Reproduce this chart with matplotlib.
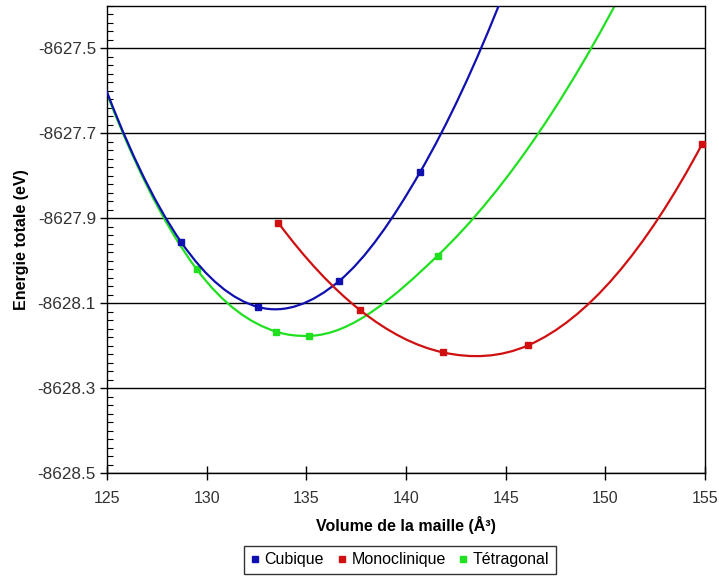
import matplotlib
matplotlib.use('Agg')
import matplotlib.pyplot as plt
from matplotlib.path import Path
from matplotlib.patches import PathPatch
from matplotlib.lines import Line2D
from matplotlib.ticker import MultipleLocator
import numpy as np

plt.rcParams['font.family'] = ['Liberation Sans', 'DejaVu Sans']

# volumes (Å³) et énergies totales (eV) ; les points hors cadre prolongent les courbes
vol_cub = [124.5, 128.72, 132.59, 136.64, 140.70, 144.90]
e_cub = [-8627.540, -8627.956, -8628.109, -8628.048, -8627.792, -8627.370]

vol_mono = [133.60, 137.69, 141.87, 146.14, 154.87]
e_mono = [-8627.911, -8628.116, -8628.216, -8628.199, -8627.724]

vol_tet = [124.5, 129.50, 133.48, 135.15, 141.59, 152.00]
e_tet = [-8627.545, -8628.020, -8628.167, -8628.177, -8627.988, -8627.260]

series = [
    ('Cubique', vol_cub, e_cub, '#1010b0', 3),
    ('Monoclinique', vol_mono, e_mono, '#d01010', 4),
    ('Tétragonal', vol_tet, e_tet, '#20e020', 2),
]

XMIN, XMAX = 125, 155
YMIN, YMAX = -8628.5, -8627.4


def slopes(x, y):
    # dérivées des paraboles passant par trois points voisins
    n = len(x)
    h = np.diff(x)
    d = np.diff(y) / h
    m = np.zeros(n)
    for i in range(1, n - 1):
        m[i] = (h[i] * d[i - 1] + h[i - 1] * d[i]) / (h[i - 1] + h[i])
    m[0] = ((2 * h[0] + h[1]) * d[0] - h[0] * d[1]) / (h[0] + h[1])
    m[-1] = ((2 * h[-1] + h[-2]) * d[-1] - h[-1] * d[-2]) / (h[-1] + h[-2])
    return m


def smooth_path(x, y):
    # courbe lissée en segments de Bézier cubiques
    x = np.asarray(x, float)
    y = np.asarray(y, float)
    m = slopes(x, y)
    verts = [(x[0], y[0])]
    codes = [Path.MOVETO]
    for i in range(len(x) - 1):
        h = x[i + 1] - x[i]
        verts += [(x[i] + h / 3, y[i] + m[i] * h / 3),
                  (x[i + 1] - h / 3, y[i + 1] - m[i + 1] * h / 3),
                  (x[i + 1], y[i + 1])]
        codes += [Path.CURVE4] * 3
    return Path(verts, codes)


fig = plt.figure(figsize=(7.19, 5.79), dpi=100)
ax = fig.add_axes([0.1488, 0.183, 0.8317, 0.8067])

for name, vx, vy, col, z in series:
    patch = PathPatch(smooth_path(vx, vy), facecolor='none', edgecolor=col,
                      linewidth=1.6, zorder=z)
    ax.add_patch(patch)
    vx = np.array(vx)
    vy = np.array(vy)
    inside = (vx >= XMIN) & (vx <= XMAX) & (vy <= YMAX) & (vy >= YMIN)
    ax.plot(vx[inside], vy[inside], linestyle='none', marker='s', markersize=4.5,
            color=col, zorder=z + 0.5, clip_on=False)

ax.set_xlim(XMIN, XMAX)
ax.set_ylim(YMIN, YMAX)
ax.set_yticks([-8628.5, -8628.3, -8628.1, -8627.9, -8627.7, -8627.5])
ax.set_yticklabels(['-8628.5', '-8628.3', '-8628.1', '-8627.9', '-8627.7', '-8627.5'])
ax.yaxis.set_minor_locator(MultipleLocator(0.02))
ax.xaxis.set_major_locator(MultipleLocator(5))

ax.grid(axis='y', which='major', color='#000000', linewidth=1.0)
ax.set_axisbelow(True)
ax.tick_params(axis='y', which='major', direction='out', length=5, width=1,
               labelsize=12.3, pad=3, labelcolor='#333333')
ax.tick_params(axis='y', which='minor', direction='in', length=4, width=0.8)
ax.tick_params(axis='x', which='major', direction='inout', length=10, width=1,
               labelsize=11.5, pad=8, labelcolor='#333333')
for s in ax.spines.values():
    s.set_color('#000000')
    s.set_linewidth(1.0)

ax.set_xlabel('Volume de la maille (Å³)', fontsize=11.5, fontweight='bold', labelpad=7)
ax.set_ylabel('Energie totale (eV)', fontsize=11.5, fontweight='bold', labelpad=6)

handles = [Line2D([], [], linestyle='none', marker='s', markersize=5, color=c)
           for _, _, _, c, _ in series]
leg = fig.legend(handles, [s[0] for s in series], loc='center', ncol=3,
                 bbox_to_anchor=(0.556, 0.033), fontsize=11.5, frameon=True,
                 fancybox=False, handlelength=0.6, handletextpad=0.3,
                 columnspacing=0.8, borderpad=0.4)
leg.get_frame().set_edgecolor('#000000')
leg.get_frame().set_linewidth(1.0)

fig.savefig('out.png', dpi=100)
